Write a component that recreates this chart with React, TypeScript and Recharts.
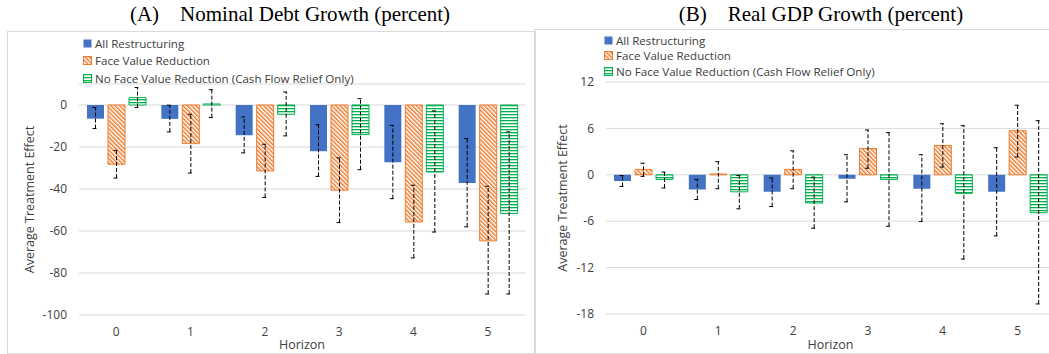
import React from "react";
import {
  BarChart,
  Bar,
  XAxis,
  YAxis,
  CartesianGrid,
  ErrorBar,
} from "recharts";

const horizons = ["0", "1", "2", "3", "4", "5"];

// (A) Nominal debt growth
const debtAll = [-6.5, -6.6, -14.4, -22.0, -27.3, -37.1];
const debtAllLo = [-11.2, -12.8, -22.8, -34.0, -44.6, -58.0];
const debtAllHi = [-1.2, -0.1, -5.7, -9.4, -9.7, -16.0];
const debtFace = [-28.2, -18.4, -31.4, -40.6, -55.7, -64.7];
const debtFaceLo = [-34.8, -32.4, -44.0, -56.0, -72.8, -90.0];
const debtFaceHi = [-21.6, -4.4, -18.7, -25.2, -38.2, -38.7];
const debtNoFace = [3.5, 0.5, -4.4, -14.1, -31.9, -51.7];
const debtNoFaceLo = [-1.2, -6.0, -14.7, -30.8, -60.5, -90.0];
const debtNoFaceHi = [8.3, 7.3, 6.2, 3.0, -2.8, -12.8];
const debtTicks = [-100, -80, -60, -40, -20, 0];

// (B) Real GDP growth
const gdpAll = [-0.8, -1.9, -2.2, -0.5, -1.8, -2.2];
const gdpAllLo = [-1.5, -3.2, -4.1, -3.5, -6.05, -7.9];
const gdpAllHi = [-0.1, -0.6, -0.4, 2.6, 2.6, 3.5];
const gdpFace = [0.7, 0.1, 0.7, 3.4, 3.8, 5.7];
const gdpFaceLo = [-0.2, -1.8, -1.8, 0.85, 1.0, 2.3];
const gdpFaceHi = [1.5, 1.7, 3.1, 5.8, 6.6, 9.0];
const gdpNoFace = [-0.6, -2.2, -3.65, -0.6, -2.4, -4.9];
const gdpNoFaceLo = [-1.7, -4.4, -6.9, -6.65, -10.9, -16.7];
const gdpNoFaceHi = [0.35, -0.1, -0.3, 5.45, 6.35, 7.0];
const gdpTicks = [-18, -12, -6, 0, 6, 12];

const seriesNames = [
  "All Restructuring",
  "Face Value Reduction",
  "No Face Value Reduction (Cash Flow Relief Only)",
];

const BLUE = "#4472c4";
const ORANGE = "#ed7d31";
const GREEN = "#00b050";
const FONT = '"Open Sans", sans-serif';
const TEXT = "#404040";

const build = (
  all: number[], allLo: number[], allHi: number[],
  face: number[], faceLo: number[], faceHi: number[],
  nf: number[], nfLo: number[], nfHi: number[]
) =>
  horizons.map((h, i) => ({
    h,
    all: all[i],
    allErr: [all[i] - allLo[i], allHi[i] - all[i]],
    face: face[i],
    faceErr: [face[i] - faceLo[i], faceHi[i] - face[i]],
    noFace: nf[i],
    noFaceErr: [nf[i] - nfLo[i], nfHi[i] - nf[i]],
  }));

const debtData = build(debtAll, debtAllLo, debtAllHi, debtFace, debtFaceLo, debtFaceHi, debtNoFace, debtNoFaceLo, debtNoFaceHi);
const gdpData = build(gdpAll, gdpAllLo, gdpAllHi, gdpFace, gdpFaceLo, gdpFaceHi, gdpNoFace, gdpNoFaceLo, gdpNoFaceHi);

const tickStyle = { fontSize: 12, fill: TEXT, fontFamily: FONT };

const errProps = {
  width: 3,
  stroke: "#000",
  strokeWidth: 1,
  strokeDasharray: "4 2",
};

const Panel = ({
  data, domain, ticks, yAxisWidth, topMargin, xAxisHeight, labelOffset,
}: any) => (
  <BarChart
    width={530}
    height={354}
    data={data}
    margin={{ top: topMargin, right: 5, bottom: 0, left: 0 }}
    barSize={17}
    barGap={4}
  >
    <CartesianGrid vertical={false} stroke="#d9d9d9" />
    <XAxis
      dataKey="h"
      axisLine={false}
      tickLine={false}
      tickSize={0}
      tickMargin={12}
      height={xAxisHeight}
      tick={tickStyle}
      label={{ value: "Horizon", position: "insideBottom", offset: 5, style: { fontSize: 12.5, fill: TEXT, fontFamily: FONT } }}
    />
    <YAxis
      domain={domain}
      ticks={ticks}
      allowDataOverflow
      axisLine={false}
      tickLine={false}
      tickSize={0}
      tickMargin={12}
      width={yAxisWidth}
      tick={tickStyle}
      label={{
        value: "Average Treatment Effect",
        angle: -90,
        position: "insideLeft",
        offset: labelOffset,
        style: { fontSize: 12.5, fill: TEXT, fontFamily: FONT, textAnchor: "middle" },
      }}
    />
    <Bar dataKey="all" fill={BLUE} isAnimationActive={false}>
      <ErrorBar dataKey="allErr" {...errProps} />
    </Bar>
    <Bar dataKey="face" fill="url(#diagOrange)" stroke={ORANGE} strokeWidth={1} isAnimationActive={false}>
      <ErrorBar dataKey="faceErr" {...errProps} />
    </Bar>
    <Bar dataKey="noFace" fill="url(#horizGreen)" stroke={GREEN} strokeWidth={1} isAnimationActive={false}>
      <ErrorBar dataKey="noFaceErr" {...errProps} />
    </Bar>
  </BarChart>
);

const swatchFills = [BLUE, "url(#diagOrange)", "url(#horizGreen)"];
const swatchStrokes = ["none", ORANGE, GREEN];

const LegendBox = ({ left, top, rowGap }: any) => (
  <div style={{ position: "absolute", left, top, fontFamily: FONT, fontSize: 11.6, color: TEXT }}>
    {seriesNames.map((name, i) => (
      <div key={name} style={{ display: "flex", alignItems: "center", height: rowGap, whiteSpace: "nowrap" }}>
        <svg width={9} height={9} style={{ marginRight: 3 }}>
          <rect x={0.5} y={0.5} width={8} height={8} fill={swatchFills[i]} stroke={swatchStrokes[i]} />
        </svg>
        <span>{name}</span>
      </div>
    ))}
  </div>
);

const Title = ({ center, label, text }: any) => (
  <div
    style={{
      position: "absolute",
      left: center - 250,
      width: 500,
      top: 2,
      textAlign: "center",
      fontFamily: '"Liberation Serif", "Times New Roman", serif',
      fontSize: 21,
      whiteSpace: "pre",
      color: "#000",
    }}
  >
    {label + "    " + text}
  </div>
);

export default function App() {
  return (
    <div style={{ position: "absolute", left: 0, top: 0, width: 1049, height: 354, overflow: "hidden", background: "#fff" }}>
      <svg width={0} height={0} style={{ position: "absolute" }}>
        <defs>
          <pattern id="diagOrange" width={3} height={4} patternUnits="userSpaceOnUse" patternTransform="rotate(-45)">
            <rect width={3} height={4} fill="#fff" />
            <rect width={1.5} height={4} fill={ORANGE} />
          </pattern>
          <pattern id="horizGreen" width={4} height={3} patternUnits="userSpaceOnUse">
            <rect width={4} height={3} fill="#fff" />
            <rect width={4} height={1.3} fill={GREEN} />
          </pattern>
        </defs>
      </svg>

      <div style={{ position: "absolute", left: 7, top: 31, width: 527, height: 321, border: "1px solid #d9d9d9" }} />
      <div style={{ position: "absolute", left: 534, top: 29, width: 530, height: 323, border: "1px solid #d9d9d9" }} />

      <Title center={290} label="(A)" text="Nominal Debt Growth (percent)" />
      <Title center={821} label="(B)" text="Real GDP Growth (percent)" />

      <div style={{ position: "absolute", left: 0, top: 0 }}>
        <Panel data={debtData} domain={[-100, 10]} ticks={debtTicks} yAxisWidth={79} topMargin={84} xAxisHeight={39} labelOffset={30} />
      </div>
      <div style={{ position: "absolute", left: 530, top: 0 }}>
        <Panel data={gdpData} domain={[-18, 12]} ticks={gdpTicks} yAxisWidth={76} topMargin={82} xAxisHeight={40} labelOffset={33} />
      </div>

      <LegendBox left={83} top={35} rowGap={17.3} />
      <LegendBox left={604} top={33} rowGap={15.3} />
    </div>
  );
}
